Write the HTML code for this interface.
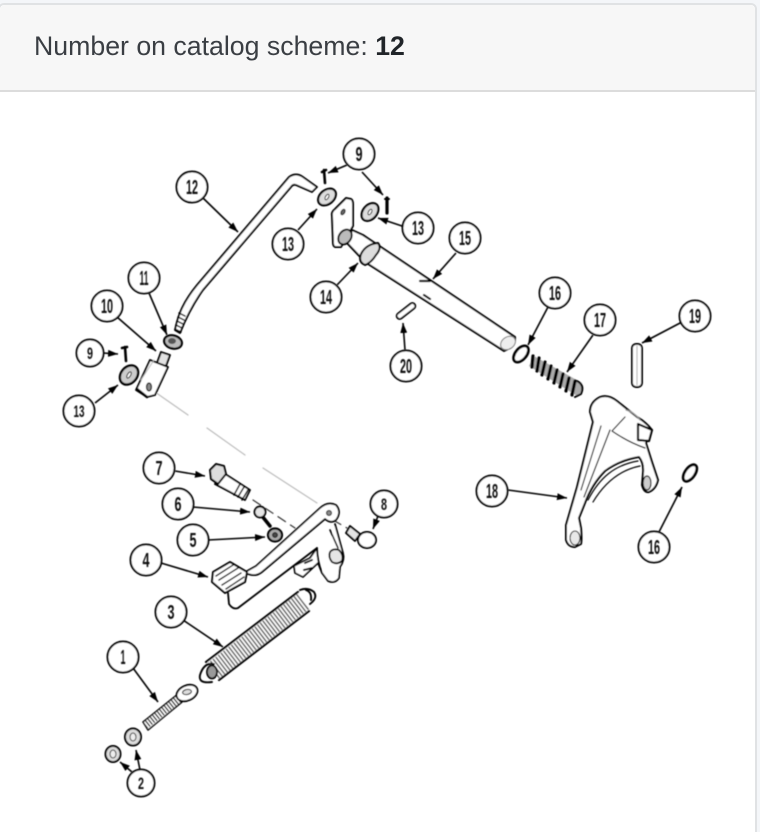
<!DOCTYPE html>
<html><head><meta charset="utf-8">
<style>
html,body{margin:0;padding:0;width:760px;height:832px;overflow:hidden;background:#f4f6f9}
#wrap{position:relative;width:760px;height:832px;overflow:hidden;background:#f4f6f9}
#card{position:absolute;left:-2px;top:3px;width:755px;height:840px;background:#fff;border:2px solid #e0e2e4;border-radius:6px;box-sizing:content-box}
#head{position:absolute;left:0;top:0;right:0;height:85px;background:#f7f7f7;border-bottom:2px solid #dcdcdc;border-radius:5px 5px 0 0}
#title{position:absolute;left:34px;top:32px;font:26.7px/28px "Liberation Sans",sans-serif;color:#3a3e43;white-space:nowrap}
#title b{color:#212529}
svg{position:absolute;left:0;top:0}
text{font-family:"Liberation Sans",sans-serif;font-size:20px;font-weight:bold;fill:#111;text-anchor:middle}
</style></head>
<body>
<div id="wrap">
<div id="card"><div id="head"></div></div>
<div id="title">Number on catalog scheme: <b>12</b></div>
<svg width="760" height="832" viewBox="0 0 760 832">
<defs>
<marker id="a" markerWidth="11" markerHeight="8" refX="10" refY="3.5" orient="auto" markerUnits="userSpaceOnUse"><path d="M0,0L10,3.5L0,7Z" fill="#000"/></marker>
<filter id="b" x="-5%" y="-5%" width="110%" height="110%"><feGaussianBlur stdDeviation="0.5"/></filter>
</defs>
<g filter="url(#b)" fill="#fff" stroke="#000" stroke-width="1.9" stroke-linejoin="round" stroke-linecap="round">

<!-- center lines -->
<g stroke="#bbb" stroke-width="1.1" fill="none">
<path d="M155,392L188,415M207,428L245,455M263,468L317,503"/>
</g>
<g stroke="#333" stroke-width="1.2" fill="none" stroke-dasharray="9 6">
<path d="M253,500L295,528M333,520L347,528"/>
</g>

<!-- rod 12 -->
<path d="M175,330C178,315 183,302 197,285L289,177Q296,172 303,177L317,187L312,192L296,185Q293,184 291,187L203,290C193,304 186,318 180,333Z"/>
<path d="M175,329L181,332M176,325L182,328M177,321L183,324M178,317L184,320M179,313L185,316" stroke-width="1.5" fill="none"/>

<!-- nut 11 -->
<ellipse cx="173" cy="342" rx="9" ry="6.5" transform="rotate(15 173 342)" fill="#bbb" stroke-width="2.3"/>
<ellipse cx="172" cy="341" rx="4" ry="3" fill="#555" stroke="none"/>

<!-- clevis 10 -->
<path d="M161,352L170,355L166,366L157,363Z" fill="#e2e2e2"/>
<path d="M150,360L168,367L155,395L147,397L136,390Z"/>
<path d="M141,380L154,360" fill="none" stroke="#bbb" stroke-width="1"/>
<ellipse cx="149" cy="387" rx="2.5" ry="4" fill="#888" stroke-width="1.2"/>
<path d="M137,389L147,397" stroke-width="2.6" fill="none"/>

<!-- washers and pins -->
<ellipse cx="129" cy="375" rx="8" ry="10.5" transform="rotate(40 129 375)" fill="#ccc" stroke-width="2.4"/>
<ellipse cx="129" cy="375" rx="1.6" ry="3.5" transform="rotate(30 129 375)" fill="#fff" stroke-width="1"/>
<path d="M125,347L126,361M122,348L127,347" fill="none" stroke-width="2.6"/>

<ellipse cx="327" cy="197" rx="7" ry="10" transform="rotate(50 327 197)" fill="#ddd" stroke-width="2.2"/>
<ellipse cx="327" cy="197" rx="1.5" ry="3" transform="rotate(30 327 197)" fill="#fff" stroke-width="1"/>
<path d="M324,170L325,183M322,172L326,170" fill="none" stroke-width="2.6"/>

<ellipse cx="370" cy="212" rx="7" ry="10" transform="rotate(40 370 212)" fill="#ddd" stroke-width="2.2"/>
<ellipse cx="370" cy="212" rx="1.5" ry="3" transform="rotate(30 370 212)" fill="#fff" stroke-width="1"/>
<path d="M387,198L387,213" fill="none" stroke-width="3.2"/>
<path d="M385,199L389,199" fill="none" stroke-width="2"/>

<!-- bracket + shaft 15 -->
<path d="M332,216Q331,212 335,209L346,198L351,199Q353,200 353,204L353,226L341,247L335,247Q333,246 333,243Z" stroke-width="2"/>
<ellipse cx="343" cy="212" rx="1.8" ry="3" transform="rotate(30 343 212)" fill="#666" stroke="#000" stroke-width="1"/>
<path d="M352,230L363,235L515,337Q516,346 504,351L365,262L347,243Z" stroke-width="2"/>
<ellipse cx="508" cy="343" rx="6" ry="8" transform="rotate(55 508 343)" fill="#eee" stroke="#777" stroke-width="1"/>
<ellipse cx="345" cy="237" rx="6" ry="8" transform="rotate(35 345 237)" fill="#bbb" stroke-width="1.9"/>
<path d="M361,254Q366,244 378,243Q382,248 376,255Q371,263 365,265Q358,262 361,254Z" fill="#ddd" stroke-width="2"/>
<path d="M420,281L430,281M424,295L430,299" stroke-width="2.2" fill="none"/>

<!-- pin 20 -->
<rect x="395" y="308" width="22" height="6" rx="3" transform="rotate(-38 406 311)" fill="#fff"/>

<!-- o-ring 16 -->
<ellipse cx="521" cy="354" rx="5.5" ry="9.5" transform="rotate(40 521 354)" fill="#fff" stroke-width="2.8"/>

<!-- spring 17 -->
<path d="M534,356L582,383Q583,392 577,396L529,366Z" fill="#aaa" stroke="none"/>
<g fill="none" stroke-width="3.2">
<path d="M533,356L532,367M539,358L537,371M545,362L542,375M551,366L548,379M557,370L554,383M563,374L560,387M569,378L566,391M575,381L572,395"/>
<path d="M577,381Q585,385 581,394L575,397" stroke-width="2"/>
</g>

<!-- pin 19 -->
<rect x="632" y="344" width="10" height="43" rx="4"/>
<path d="M637,346L637,385" stroke="#aaa" stroke-width="1" fill="none"/>

<!-- fork 18 -->
<path d="M566,540Q568,547 575,547L581,544Q582,540 581,528L579,518L585,503Q592,484 605,471Q620,460 639,457Q644,463 643,473L642,485Q644,493 649,492Q656,489 658,480L652,462L646,443L652,430Q646,422 637,417L617,401Q608,394 600,397Q590,402 590,412L593,422L577,487L566,525Z" stroke-width="2"/>
<path d="M610,430L584,497M601,426L581,490M588,500C600,477 615,465 638,461M593,502C605,482 620,470 640,466M625,417L612,431Q628,442 645,448" fill="none" stroke-width="1.2"/>
<path d="M626,410Q634,412 640,420" fill="none" stroke="#999" stroke-width="1.2"/>
<path d="M638,424L652,430L649,441L638,440Z" stroke-width="2.2"/>
<ellipse cx="647" cy="483" rx="4" ry="7" fill="#ccc" stroke-width="1.2"/>
<ellipse cx="575" cy="538" rx="5" ry="7" fill="#e8e8e8" stroke-width="1"/>
<ellipse cx="690" cy="473" rx="5" ry="9.5" transform="rotate(35 690 473)" fill="#fff" stroke-width="2.8"/>

<!-- bolt 7 -->
<path d="M222,472L250,490L245,500L215,484Z"/>
<path d="M240,484L234,495M244,487L238,497M248,490L242,500" fill="none" stroke-width="1.5"/>
<path d="M210,470L216,464L224,466L226,474L218,484L211,479Z" fill="#ddd" stroke-width="2"/>

<!-- bolt 6 and nut 5 -->
<path d="M262,516L270,526" stroke-width="3.5" fill="none"/>
<circle cx="260" cy="512" r="5.5" fill="#e5e5e5" stroke-width="1.9"/>
<ellipse cx="275" cy="535" rx="7" ry="6.5" fill="#aaa" stroke-width="2.2"/>
<circle cx="275" cy="535" r="2.5" fill="#444" stroke="#000" stroke-width=".8"/>

<!-- pedal 4 -->
<path d="M247,571L256,566L320,508Q328,501 336,505Q342,512 336,520Q331,524 325,519L262,572Q256,577 248,574" fill="#fff" stroke-width="1.8"/>
<path d="M228,593L229,604Q233,610 238,608L317,548" fill="none" stroke-width="1.8"/>
<path d="M335,524L343,553Q345,560 340,567L339,578Q335,584 328,581L322,573L318,563L303,577L295,573L294,566L310,558L317,548Q317,560 322,573" fill="#fff" stroke-width="1.8"/>
<path d="M213,572L230,562L247,572L245,582L225,593L212,582Z" stroke-width="2"/>
<path d="M216,576L233,565M219,580L238,568M222,585L241,573M226,589L244,577" fill="none" stroke-width="1.4"/>
<circle cx="329" cy="513" r="2.5" fill="#888" stroke-width="1"/>
<path d="M330,530L338,548" fill="none" stroke-width="1.6"/>
<path d="M330,552Q333,548 339,550Q344,555 342,561Q337,565 332,562Q328,557 330,552Z" fill="#e5e5e5" stroke-width="1.8"/>
<path d="M305,563L312,560M304,570L312,568" fill="none" stroke-width="2"/>

<!-- rivet 8 -->
<path d="M350,526L360,534L355,541L346,533Z" fill="#e5e5e5"/>
<ellipse cx="367" cy="540" rx="9" ry="8" fill="#fff" stroke-width="2"/>

<!-- spring 3 -->
<path d="M207,662L298,592L310,611L219,680Z" stroke="none" fill="#fff"/>
<path d="M213,671L304,601" fill="none" stroke="#666" stroke-width="19" stroke-linecap="butt" stroke-dasharray="1.6 1.7"/>
<path d="M206,662L298,592M219,680L309,611" fill="none" stroke-width="2.2"/>
<path d="M212,682Q198,684 200,675Q204,662 214,664" fill="none" stroke-width="1.9"/>
<path d="M300,590Q308,587 314,592Q318,598 310,604M306,590Q312,592 311,600" fill="none" stroke-width="1.9"/>
<ellipse cx="212" cy="672" rx="5" ry="6.5" fill="#999" stroke-width="1.8"/>

<!-- eye bolt 1 -->
<path d="M143,722L178,694L182,702L148,730Z" fill="#fff" stroke-width="1.5"/>
<path d="M145,726L180,698" fill="none" stroke="#222" stroke-width="7" stroke-dasharray="1.4 1.6" stroke-linecap="butt"/>
<ellipse cx="187" cy="693" rx="11" ry="7.5" transform="rotate(-25 187 693)" stroke-width="1.9"/>
<ellipse cx="187" cy="692" rx="4.5" ry="2.5" transform="rotate(-10 187 692)" fill="#ddd" stroke-width="1"/>

<!-- washers 2 -->
<ellipse cx="133" cy="737" rx="8" ry="8.5" fill="#ddd" stroke-width="2"/>
<ellipse cx="133" cy="737" rx="3" ry="4" fill="#eee" stroke="#333" stroke-width="1"/>
<ellipse cx="113" cy="754" rx="7.5" ry="8" fill="#ddd" stroke-width="2"/>
<ellipse cx="113" cy="754" rx="3" ry="4" fill="#eee" stroke="#333" stroke-width="1"/>
</g>

<!-- connectors -->
<g filter="url(#b)" fill="none" stroke="#000" stroke-width="1.6">
<path marker-end="url(#a)" d="M203,198L238,232"/>
<path marker-end="url(#a)" d="M347,165L328,173"/>
<path marker-end="url(#a)" d="M362,172L383,195"/>
<path marker-end="url(#a)" d="M298,230L317,209"/>
<path marker-end="url(#a)" d="M405,227L378,218"/>
<path marker-end="url(#a)" d="M337,285L358,263"/>
<path marker-end="url(#a)" d="M456,253L433,279"/>
<path marker-end="url(#a)" d="M149,293L167,335"/>
<path marker-end="url(#a)" d="M117,317L156,351"/>
<path marker-end="url(#a)" d="M103,353L118,354"/>
<path marker-end="url(#a)" d="M95,403L118,385"/>
<path marker-end="url(#a)" d="M175,471L205,476"/>
<path marker-end="url(#a)" d="M193,507L250,512"/>
<path marker-end="url(#a)" d="M208,540L265,537"/>
<path marker-end="url(#a)" d="M161,563L208,577"/>
<path marker-end="url(#a)" d="M183,620L223,647"/>
<path marker-end="url(#a)" d="M133,668L158,702"/>
<path marker-end="url(#a)" d="M140,770L136,750"/>
<path marker-end="url(#a)" d="M132,772L120,762"/>
<path marker-end="url(#a)" d="M378,516L373,529"/>
<path marker-end="url(#a)" d="M548,307L528,345"/>
<path marker-end="url(#a)" d="M593,335L567,372"/>
<path marker-end="url(#a)" d="M682,322L642,343"/>
<path marker-end="url(#a)" d="M405,350L403,323"/>
<path marker-end="url(#a)" d="M508,490L567,498"/>
<path marker-end="url(#a)" d="M659,532L682,487"/>
</g>

<!-- callouts -->
<g filter="url(#b)" fill="#fff" stroke="#000" stroke-width="2">
<circle cx="359" cy="154" r="15.5"/><circle cx="192" cy="187" r="15.5"/>
<circle cx="288" cy="244" r="15.5"/><circle cx="418" cy="228" r="15.5"/>
<circle cx="465" cy="238" r="15.5"/><circle cx="326" cy="297" r="15.5"/>
<circle cx="144" cy="278" r="15.5"/><circle cx="107" cy="306" r="15.5"/>
<circle cx="90" cy="353" r="13.5"/><circle cx="79" cy="411" r="15.5"/>
<circle cx="159" cy="468" r="15.5"/><circle cx="178" cy="504" r="15.5"/>
<circle cx="193" cy="540" r="15.5"/><circle cx="146" cy="560" r="15.5"/>
<circle cx="171" cy="612" r="15.5"/><circle cx="123" cy="657" r="15.5"/>
<circle cx="141" cy="783" r="13.5"/><circle cx="384" cy="504" r="13.5"/>
<circle cx="555" cy="293" r="15.5"/><circle cx="600" cy="320" r="15.5"/>
<circle cx="695" cy="316" r="15.5"/><circle cx="406" cy="366" r="15.5"/>
<circle cx="492" cy="491" r="15.5"/><circle cx="654" cy="547" r="15.5"/>
</g>
<g filter="url(#b)">
<text x="359" y="161" textLength="7" lengthAdjust="spacingAndGlyphs">9</text>
<text x="192" y="194" textLength="12" lengthAdjust="spacingAndGlyphs">12</text>
<text x="288" y="251" textLength="12" lengthAdjust="spacingAndGlyphs">13</text>
<text x="418" y="235" textLength="12" lengthAdjust="spacingAndGlyphs">13</text>
<text x="465" y="245" textLength="12" lengthAdjust="spacingAndGlyphs">15</text>
<text x="326" y="304" textLength="12" lengthAdjust="spacingAndGlyphs">14</text>
<text x="144" y="285" textLength="9" lengthAdjust="spacingAndGlyphs">11</text>
<text x="107" y="313" textLength="12" lengthAdjust="spacingAndGlyphs">10</text>
<text x="90" y="359" textLength="6" lengthAdjust="spacingAndGlyphs" style="font-size:17px">9</text>
<text x="79" y="417" textLength="11" lengthAdjust="spacingAndGlyphs" style="font-size:17px">13</text>
<text x="159" y="475" textLength="7" lengthAdjust="spacingAndGlyphs">7</text>
<text x="178" y="511" textLength="7" lengthAdjust="spacingAndGlyphs">6</text>
<text x="193" y="547" textLength="7" lengthAdjust="spacingAndGlyphs">5</text>
<text x="146" y="567" textLength="7" lengthAdjust="spacingAndGlyphs">4</text>
<text x="171" y="619" textLength="7" lengthAdjust="spacingAndGlyphs">3</text>
<text x="123" y="664" textLength="5" lengthAdjust="spacingAndGlyphs">1</text>
<text x="141" y="789" textLength="6" lengthAdjust="spacingAndGlyphs" style="font-size:17px">2</text>
<text x="384" y="510" textLength="6" lengthAdjust="spacingAndGlyphs" style="font-size:17px">8</text>
<text x="555" y="300" textLength="12" lengthAdjust="spacingAndGlyphs">16</text>
<text x="600" y="327" textLength="12" lengthAdjust="spacingAndGlyphs">17</text>
<text x="695" y="323" textLength="12" lengthAdjust="spacingAndGlyphs">19</text>
<text x="406" y="373" textLength="12" lengthAdjust="spacingAndGlyphs">20</text>
<text x="492" y="498" textLength="12" lengthAdjust="spacingAndGlyphs">18</text>
<text x="654" y="554" textLength="12" lengthAdjust="spacingAndGlyphs">16</text>
</g>
</svg>
</div>
</body></html>
